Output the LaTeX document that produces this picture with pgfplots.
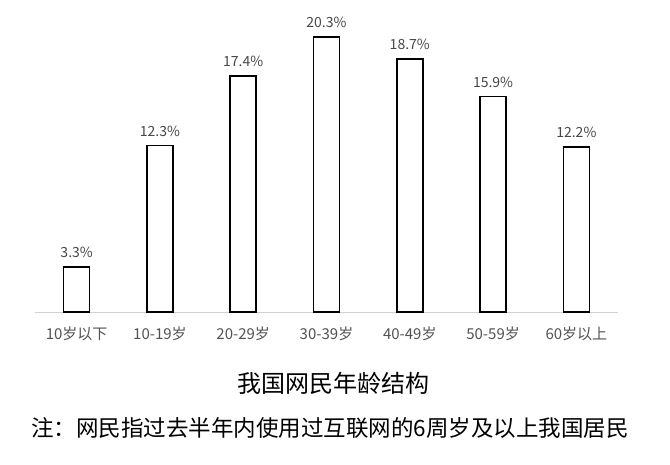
\documentclass[border=0pt]{standalone}
\usepackage{pgfplots}
\pgfplotsset{compat=1.18}
\usepackage{fontspec}
\setmainfont{Noto Sans CJK SC}
\begin{document}
\begin{tikzpicture}[x=1pt,y=1pt]
\path[use as bounding box] (0,0) rectangle (670,-465);
\begin{axis}[
  at={(35pt,-312pt)}, anchor=south west,
  scale only axis, width=583pt, height=298pt,
  xmin=-0.5, xmax=6.5, ymin=0, ymax=22,
  axis x line*=bottom, axis y line=none,
  x axis line style={draw=black!18, line width=1pt, -},
  xtick=data,
  xticklabels={10岁以下,10-19岁,20-29岁,30-39岁,40-49岁,50-59岁,60岁以上},
  xticklabel style={font=\fontsize{15}{18}\selectfont, text=black!68, yshift=-11pt},
  major tick length=0pt,
  ybar, bar width=26pt,
  nodes near coords={\pgfmathprintnumber[fixed,precision=1,fixed zerofill]{\pgfplotspointmeta}\%},
  nodes near coords style={font=\fontsize{14}{16}\selectfont, text=black!72, yshift=5pt},
  /pgf/number format/assume math mode=true,
  clip=false,
]
\addplot[draw=black, fill=white, line width=1.7pt] coordinates {
(0,3.3) (1,12.3) (2,17.4) (3,20.3) (4,18.7) (5,15.9) (6,12.2)};
\end{axis}
\node[font=\fontsize{24}{28}\selectfont] at (333,-383) {我国网民年龄结构};
\node[font=\fontsize{22.5}{27}\selectfont] at (330,-428) {注：网民指过去半年内使用过互联网的6周岁及以上我国居民};
\end{tikzpicture}
\end{document}
